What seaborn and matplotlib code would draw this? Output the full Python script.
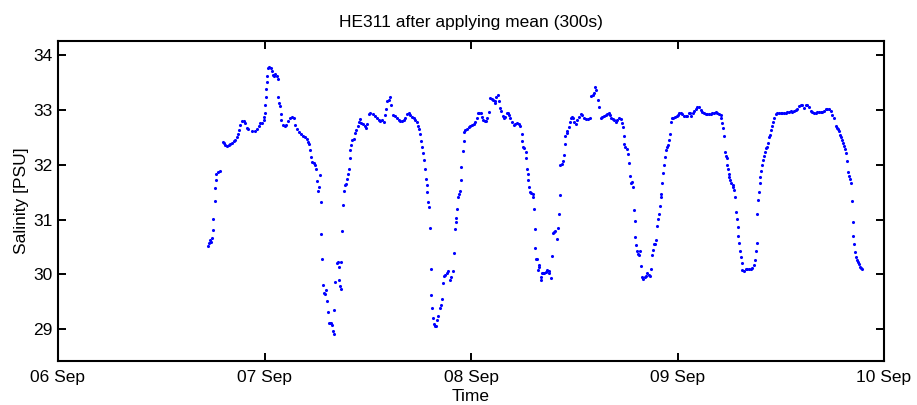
import numpy as np
import pandas as pd
import matplotlib
matplotlib.use("Agg")
import matplotlib.pyplot as plt
import matplotlib.dates as mdates
import seaborn as sns

# ---------------- data (hours after 06 Sep 00:00, salinity PSU)
start_date = "2009-09-06"
end_date = "2009-09-10"

seg1_hours = [17.49, 17.57, 17.69, 17.80, 17.88, 17.99, 18.07, 18.19, 18.27, 18.34, 18.38, 18.58, 18.85,
              19.16, 19.24, 19.43, 19.62, 19.82, 20.01, 20.21, 20.40, 20.59, 20.79, 20.90, 20.98, 21.18,
              21.37, 21.56, 21.76, 21.95, 22.14, 22.53, 22.84, 23.11, 23.31, 23.50, 23.70, 23.89, 23.97,
              24.01, 24.08, 24.12, 24.20, 24.28, 24.32, 24.39, 24.55, 24.70, 24.86, 24.98, 25.09, 25.25,
              25.40, 25.56, 25.60, 25.71, 25.79, 25.87, 25.95, 26.10, 26.33, 26.49, 26.72, 26.91, 27.19,
              27.38, 27.57, 27.77, 28.04, 28.27, 28.50, 28.74, 28.93, 29.05, 29.13, 29.28, 29.36, 29.51,
              29.71, 29.82, 29.98, 30.13, 30.25, 30.33, 30.44, 30.52, 30.60, 30.71, 30.79, 30.87, 30.99,
              31.14, 31.26, 31.37, 31.45, 31.57]
seg1_sal = [30.51, 30.57, 30.63, 30.60, 30.66, 30.81, 31.02, 31.34, 31.58, 31.72, 31.83, 31.87, 31.89,
            32.41, 32.40, 32.36, 32.34, 32.36, 32.38, 32.40, 32.43, 32.46, 32.51, 32.57, 32.63, 32.72,
            32.80, 32.80, 32.76, 32.68, 32.65, 32.62, 32.62, 32.65, 32.71, 32.76, 32.77, 32.82, 32.88,
            32.95, 33.09, 33.24, 33.39, 33.51, 33.62, 33.76, 33.78, 33.76, 33.71, 33.64, 33.62, 33.65,
            33.62, 33.56, 33.24, 33.13, 33.07, 32.92, 32.82, 32.72, 32.71, 32.72, 32.80, 32.85, 32.88,
            32.85, 32.72, 32.65, 32.60, 32.57, 32.52, 32.50, 32.47, 32.42, 32.38, 32.27, 32.15, 32.06,
            32.03, 31.99, 31.92, 31.71, 31.53, 31.59, 31.81, 31.33, 30.73, 30.28, 29.81, 29.66, 29.64,
            29.72, 29.52, 29.32, 29.12, 29.11]

seg2_hours = [31.76, 31.83, 31.95, 32.03, 32.11, 32.18, 32.42, 32.49, 32.65, 32.69, 32.80, 32.88, 32.92,
              33.04, 33.11, 33.19, 33.31, 33.46, 33.58, 33.66, 33.77, 33.89, 33.97, 34.04, 34.16, 34.35,
              34.55, 34.66, 34.82, 34.94, 35.13, 35.25, 35.44, 35.63, 35.83, 35.91, 36.10, 36.29, 36.60,
              36.88, 37.07, 37.26, 37.46, 37.65, 37.84, 38.04, 38.15, 38.23, 38.43, 38.62, 38.74, 38.93,
              39.20, 39.40, 39.59, 39.78, 39.98, 40.17, 40.37, 40.56, 40.75, 40.95, 41.14, 41.34, 41.53,
              41.72, 41.84, 41.96, 42.11, 42.23, 42.34, 42.46, 42.58, 42.69, 42.77, 42.85, 42.92, 43.00,
              43.12, 43.20, 43.31, 43.39, 43.47, 43.58, 43.66, 43.78, 43.97, 44.09, 44.20, 44.36, 44.51,
              44.63, 44.75, 44.83, 45.02, 45.21, 45.33, 45.52, 45.68, 45.91, 46.03, 46.14, 46.22, 46.30,
              46.41, 46.49, 46.61, 46.69, 46.80, 46.88, 47.04, 47.15, 47.23]
seg2_sal = [29.11, 29.08, 28.97, 28.91, 29.35, 29.87, 30.20, 30.23, 29.90, 30.14, 29.78, 29.73, 30.23,
            30.80, 31.27, 31.53, 31.63, 31.65, 31.75, 31.83, 31.93, 32.12, 32.27, 32.36, 32.45, 32.48,
            32.58, 32.63, 32.71, 32.78, 32.83, 32.77, 32.74, 32.71, 32.68, 32.74, 32.92, 32.94, 32.92,
            32.89, 32.85, 32.82, 32.80, 32.82, 32.78, 32.91, 33.01, 33.17, 33.19, 33.24, 33.09, 32.91,
            32.89, 32.85, 32.82, 32.80, 32.80, 32.82, 32.86, 32.92, 32.94, 32.91, 32.88, 32.86, 32.82,
            32.78, 32.71, 32.65, 32.56, 32.44, 32.33, 32.22, 32.09, 31.93, 31.75, 31.63, 31.51, 31.33,
            31.23, 30.84, 30.10, 29.62, 29.38, 29.21, 29.10, 29.05, 29.05, 29.16, 29.24, 29.38, 29.44,
            29.55, 29.84, 29.97, 29.99, 30.02, 30.07, 29.90, 29.96, 30.07, 30.40, 30.83, 30.96, 31.03,
            31.20, 31.42, 31.47, 31.52, 31.72, 31.96, 32.25, 32.44, 32.60]

seg3_hours = [47.35, 47.54, 47.74, 47.93, 48.13, 48.32, 48.51, 48.71, 48.82, 48.98, 49.21, 49.29, 49.41,
              49.60, 49.75, 49.91, 50.06, 50.26, 50.45, 50.61, 50.76, 50.84, 50.96, 51.11, 51.23, 51.38,
              51.54, 51.69, 51.85, 52.00, 52.16, 52.28, 52.43, 52.59, 52.78, 52.97, 53.17, 53.36, 53.55,
              53.75, 53.87, 53.94, 54.06, 54.21, 54.37, 54.45, 54.52, 54.60, 54.68, 54.76, 54.91, 55.03,
              55.18, 55.26, 55.34, 55.42, 55.49, 55.61, 55.69, 55.77, 55.88, 55.96, 56.08, 56.19, 56.27,
              56.39, 56.54, 56.66, 56.85, 57.01, 57.12, 57.28, 57.39, 57.51, 57.63, 57.82, 57.98, 58.13,
              58.21, 58.32, 58.40, 58.52, 58.71, 58.83, 58.91, 58.98, 59.10, 59.18, 59.37, 59.49, 59.64,
              59.76, 59.88, 59.99, 60.15, 60.34, 60.54, 60.73, 60.92, 61.12, 61.39, 61.62, 61.82, 61.97,
              62.13, 62.28, 62.44, 62.55, 62.71, 62.86]
seg3_sal = [32.63, 32.66, 32.69, 32.71, 32.72, 32.75, 32.78, 32.85, 32.94, 32.95, 32.95, 32.88, 32.82,
            32.80, 32.80, 32.85, 32.97, 33.22, 33.21, 33.19, 33.12, 33.17, 33.24, 33.27, 33.17, 33.03,
            32.99, 32.89, 32.85, 32.88, 32.94, 32.95, 32.91, 32.85, 32.78, 32.72, 32.75, 32.77, 32.74,
            32.71, 32.56, 32.44, 32.33, 32.30, 32.24, 32.13, 31.93, 31.83, 31.73, 31.60, 31.51, 31.48,
            31.47, 31.42, 31.19, 30.82, 30.48, 30.28, 30.29, 30.08, 30.17, 30.14, 29.90, 29.95, 30.03,
            30.02, 30.03, 30.05, 30.08, 30.07, 30.03, 29.94, 30.33, 30.76, 30.78, 30.79, 30.64, 30.85,
            31.10, 31.45, 31.99, 32.02, 32.07, 32.18, 32.38, 32.52, 32.58, 32.62, 32.69, 32.78, 32.85,
            32.88, 32.85, 32.78, 32.75, 32.82, 32.88, 32.92, 32.91, 32.85, 32.83, 32.83, 32.86, 33.25,
            33.27, 33.31, 33.42, 33.37, 33.18, 33.05]

seg4_hours = [63.06, 63.25, 63.45, 63.64, 63.84, 64.03, 64.15, 64.30, 64.46, 64.61, 64.81, 65.00, 65.19,
              65.39, 65.50, 65.62, 65.74, 65.81, 65.93, 66.08, 66.24, 66.36, 66.43, 66.55, 66.67, 66.78,
              66.90, 67.02, 67.09, 67.21, 67.33, 67.44, 67.56, 67.67, 67.79, 67.91, 68.02, 68.18, 68.33,
              68.49, 68.64, 68.80, 68.95, 69.07, 69.15, 69.26, 69.38, 69.50, 69.65, 69.77, 69.85, 69.96,
              70.04, 70.12, 70.23, 70.35, 70.43, 70.54, 70.66, 70.78, 70.89, 71.01, 71.09, 71.20, 71.32,
              71.51, 71.71, 71.90, 72.06, 72.21, 72.37, 72.56, 72.76, 72.95, 73.14, 73.34, 73.45, 73.61,
              73.76, 73.92, 74.11, 74.31, 74.50, 74.69, 74.89, 75.08, 75.28, 75.47, 75.66, 75.86, 76.05,
              76.25, 76.44, 76.63, 76.83, 77.02, 77.10, 77.18, 77.29, 77.41, 77.49, 77.60, 77.72, 77.80,
              77.87, 77.95, 78.03, 78.15, 78.26, 78.42, 78.49, 78.57, 78.69]
seg4_sal = [32.85, 32.88, 32.89, 32.91, 32.92, 32.94, 32.91, 32.85, 32.83, 32.82, 32.79, 32.82, 32.85,
            32.83, 32.77, 32.69, 32.52, 32.38, 32.33, 32.28, 32.19, 32.03, 31.79, 31.67, 31.68, 31.59,
            31.17, 30.98, 30.68, 30.54, 30.42, 30.38, 30.35, 30.43, 30.15, 29.95, 29.92, 29.95, 29.97,
            30.02, 29.99, 29.97, 30.10, 30.36, 30.45, 30.55, 30.55, 30.63, 30.89, 31.02, 31.11, 31.25,
            31.42, 31.47, 31.66, 31.85, 32.00, 32.15, 32.27, 32.33, 32.37, 32.46, 32.57, 32.78, 32.85,
            32.86, 32.88, 32.89, 32.91, 32.94, 32.94, 32.92, 32.90, 32.89, 32.90, 32.94, 32.95, 32.90,
            32.94, 32.98, 33.01, 33.06, 33.05, 33.00, 32.96, 32.94, 32.92, 32.92, 32.92, 32.92, 32.94,
            32.95, 32.97, 32.94, 32.92, 32.91, 32.85, 32.77, 32.68, 32.52, 32.24, 32.16, 32.12, 31.99,
            31.92, 31.84, 31.78, 31.72, 31.67, 31.63, 31.60, 31.54, 31.41]

seg5_hours = [78.84, 78.92, 78.99, 79.07, 79.19, 79.26, 79.38, 79.46, 79.54, 79.73, 79.92, 80.12, 80.31,
              80.51, 80.70, 80.89, 81.01, 81.09, 81.20, 81.28, 81.36, 81.47, 81.55, 81.63, 81.75, 81.86,
              81.98, 82.10, 82.17, 82.33, 82.44, 82.56, 82.68, 82.79, 82.91, 83.03, 83.14, 83.26, 83.41,
              83.61, 83.80, 84.00, 84.19, 84.38, 84.58, 84.77, 84.96, 85.16, 85.35, 85.55, 85.74, 85.93,
              86.13, 86.32, 86.52, 86.71, 86.90, 87.10, 87.29, 87.49, 87.68, 87.87, 88.07, 88.26, 88.46,
              88.65, 88.84, 89.04, 89.23, 89.42, 89.62, 89.81, 90.01, 90.16, 90.39, 90.51, 90.63, 90.78,
              90.90, 91.01, 91.13, 91.25, 91.36, 91.48, 91.63, 91.75, 91.87, 91.98, 92.06, 92.18, 92.29,
              92.37, 92.45, 92.57, 92.64, 92.76, 92.88, 92.99, 93.11, 93.23, 93.34, 93.46]
seg5_sal = [31.14, 31.02, 30.86, 30.70, 30.58, 30.42, 30.31, 30.20, 30.08, 30.07, 30.09, 30.10, 30.10,
            30.10, 30.11, 30.17, 30.26, 30.42, 30.58, 31.11, 31.36, 31.51, 31.66, 31.77, 31.89, 31.99,
            32.09, 32.16, 32.24, 32.30, 32.33, 32.39, 32.50, 32.54, 32.63, 32.71, 32.78, 32.85, 32.92,
            32.95, 32.95, 32.95, 32.95, 32.95, 32.95, 32.97, 32.97, 32.98, 32.97, 32.98, 33.00, 33.01,
            33.07, 33.09, 33.10, 33.03, 33.09, 33.10, 33.06, 32.99, 32.96, 32.95, 32.95, 32.97, 32.97,
            32.96, 32.96, 32.98, 33.01, 33.02, 33.02, 32.98, 32.91, 32.85, 32.71, 32.68, 32.65, 32.61,
            32.54, 32.50, 32.45, 32.40, 32.34, 32.29, 32.21, 32.07, 31.87, 31.79, 31.75, 31.66, 31.34,
            30.95, 30.70, 30.55, 30.41, 30.32, 30.26, 30.22, 30.19, 30.14, 30.11, 30.10]

y_ticks = [29, 30, 31, 32, 33, 34]
title_text = "HE311 after applying mean (300s)"
x_label = "Time"
y_label = "Salinity [PSU]"

# ---------------- build table
hours = seg1_hours + seg2_hours + seg3_hours + seg4_hours + seg5_hours
sal = seg1_sal + seg2_sal + seg3_sal + seg4_sal + seg5_sal
df = pd.DataFrame({
    "Time": pd.Timestamp(start_date) + pd.to_timedelta(np.array(hours), unit="h"),
    "Salinity": sal,
})

# ---------------- plot
sns.set_style("ticks")
plt.rcParams["font.family"] = ["Liberation Sans", "DejaVu Sans"]
plt.rcParams["text.color"] = "black"
plt.rcParams["axes.labelcolor"] = "black"
plt.rcParams["xtick.color"] = "black"
plt.rcParams["ytick.color"] = "black"
FS = 12.5

fig = plt.figure(figsize=(9.17, 4.05), dpi=100)
ax = fig.add_axes([58 / 917, 1 - 361 / 405, (884 - 58) / 917, (361 - 41) / 405])

sns.scatterplot(data=df, x="Time", y="Salinity", ax=ax, color="#0000ff",
                s=5, linewidth=0, marker="o", legend=False)

ax.set_xlim(pd.Timestamp(start_date), pd.Timestamp(end_date))
ax.set_ylim(28.42, 34.26)
ax.set_yticks(y_ticks)
ax.xaxis.set_major_locator(mdates.DayLocator())
ax.xaxis.set_major_formatter(mdates.DateFormatter("%d %b"))

ax.tick_params(direction="in", length=6, width=1.4, top=True, right=True,
               labelsize=FS, colors="black", labelcolor="black")
ax.tick_params(axis="x", pad=6.5)
ax.tick_params(axis="y", pad=4)
for sp in ax.spines.values():
    sp.set_visible(True)
    sp.set_linewidth(1.5)
    sp.set_color("black")

ax.set_title(title_text, fontsize=FS, pad=10, color="black")
ax.set_xlabel(x_label, fontsize=FS, labelpad=3, color="black")
ax.set_ylabel(y_label, fontsize=FS, labelpad=3, color="black")

fig.savefig("out.png", dpi=100)
